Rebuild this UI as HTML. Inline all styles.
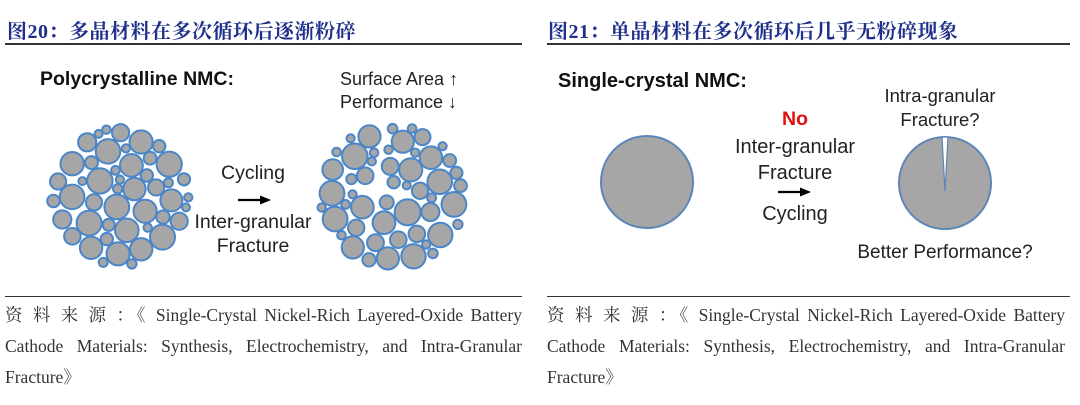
<!DOCTYPE html>
<html><head><meta charset="utf-8"><style>
body{margin:0;width:1080px;height:405px;background:#fff;position:relative;overflow:hidden;font-family:"Liberation Sans",sans-serif}
.t{position:absolute;white-space:nowrap}
.title{font-family:"Liberation Serif","Noto Serif CJK SC",serif;font-weight:bold;color:#1f2f8a;font-size:20px;letter-spacing:0.5px;top:15px}
.rule{position:absolute;height:2px;background:#333}
.src{position:absolute;font-family:"Liberation Serif","Noto Serif CJK SC",serif;font-size:17.5px;color:#333;line-height:31px;white-space:nowrap}
.j{text-align:justify;text-align-last:justify;height:31px;overflow:hidden}
.c{font-size:19.5px;color:#222;text-align:center}
</style></head><body>
<div class="t title" style="left:7px">图20：多晶材料在多次循环后逐渐粉碎</div>
<div class="t title" style="left:548px">图21：单晶材料在多次循环后几乎无粉碎现象</div>
<div class="rule" style="left:5px;width:517px;top:43px"></div>
<div class="rule" style="left:547px;width:523px;top:43px"></div>
<div class="rule" style="left:5px;width:517px;top:296px;height:1px"></div>
<div class="rule" style="left:547px;width:523px;top:296px;height:1px"></div>

<div class="t" style="left:40px;top:68px;font-weight:bold;font-size:19.5px;color:#111">Polycrystalline NMC:</div>
<div class="t" style="left:340px;top:68px;font-size:18px;color:#222;line-height:23px">Surface Area ↑<br>Performance ↓</div>
<div class="t c" style="left:183px;width:140px;top:162px">Cycling</div>
<div class="t c" style="left:183px;width:140px;top:210px;line-height:24px">Inter-granular<br>Fracture</div>
<div class="t" style="left:558px;top:70px;font-weight:bold;font-size:20px;color:#111">Single-crystal NMC:</div>
<div class="t c" style="left:720px;width:150px;top:108px;color:#e01010;font-weight:bold">No</div>
<div class="t c" style="left:720px;width:150px;top:134px;line-height:26px;font-size:20px">Inter-granular<br>Fracture</div>
<div class="t c" style="left:720px;width:150px;top:203px;font-size:20px">Cycling</div>
<div class="t c" style="left:870px;width:140px;top:84px;line-height:24px;font-size:18.5px">Intra-granular<br>Fracture?</div>
<div class="t c" style="left:845px;width:200px;top:242px;font-size:19px">Better Performance?</div>

<svg width="1080" height="405" style="position:absolute;left:0;top:0">
<g stroke="#000" stroke-width="2.2"><line x1="238" y1="200" x2="262" y2="200"/><line x1="778" y1="192" x2="802" y2="192"/></g>
<polygon points="260,195.5 271,200 260,204.5" fill="#000"/>
<polygon points="800,187.5 811,192 800,196.5" fill="#000"/>
<circle cx="647" cy="182" r="46" fill="#a6a6a6" stroke="#5b86b8" stroke-width="2"/>
<circle cx="945" cy="183" r="46" fill="#a6a6a6" stroke="#5b86b8" stroke-width="2"/>
<polygon points="942,137 948,137 945,191" fill="#fff" stroke="#5b86b8" stroke-width="1.2"/>
<g id="p1"></g><g id="p2"></g>
</svg>

<div class="src" style="left:5px;top:300px;width:517px"><div class="j">资 料 来 源 ：《 Single-Crystal Nickel-Rich Layered-Oxide Battery</div><div class="j">Cathode Materials: Synthesis, Electrochemistry, and Intra-Granular</div><div>Fracture》</div></div>
<div class="src" style="left:547px;top:300px;width:518px"><div class="j">资 料 来 源 ：《 Single-Crystal Nickel-Rich Layered-Oxide Battery</div><div class="j">Cathode Materials: Synthesis, Electrochemistry, and Intra-Granular</div><div>Fracture》</div></div>
<script>
function pack(id,cx,cy,R,seed,gap){
 var s=seed;function rnd(){s=(s*9301+49297)%233280;return s/233280;}
 var cs=[],g=document.getElementById(id),out='',N=40000;
 for(var t=0;t<N;t++){
  var f=t/N;
  var r=f<0.05?13-rnd()*2:(f<0.3?11-rnd()*3:(f<0.7?8-rnd()*2:5.5-rnd()*1.5));
  var a=rnd()*6.283,d=Math.sqrt(rnd())*(R-r);
  var x=cx+Math.cos(a)*d,y=cy+Math.sin(a)*d,ok=true;
  for(var i=0;i<cs.length;i++){var c=cs[i];var dx=x-c[0],dy=y-c[1];if(dx*dx+dy*dy<(r+c[2]+0.5)*(r+c[2]+0.5)){ok=false;break;}}
  if(ok&&gap&&gap(x,y,r))ok=false;
  if(ok)cs.push([x,y,r]);
 }
 cs.forEach(function(c){out+='<circle cx="'+c[0].toFixed(1)+'" cy="'+c[1].toFixed(1)+'" r="'+c[2].toFixed(1)+'" fill="#a6a6a6" stroke="#4a86c8" stroke-width="2"/>';});
 g.innerHTML=out;
}
pack('p1',120,197,73,17,null);
pack('p2',392,197,76,29,function(x,y,r){
 function dl(x1,y1,x2,y2){var A=y2-y1,B=x1-x2,C=x2*y1-x1*y2;return Math.abs(A*x+B*y+C)/Math.sqrt(A*A+B*B);}
 return (dl(385,125,375,200)<r+2&&y<205) || (dl(340,185,450,200)<r+2&&x>345&&x<420);
});
</script>
</body></html>
